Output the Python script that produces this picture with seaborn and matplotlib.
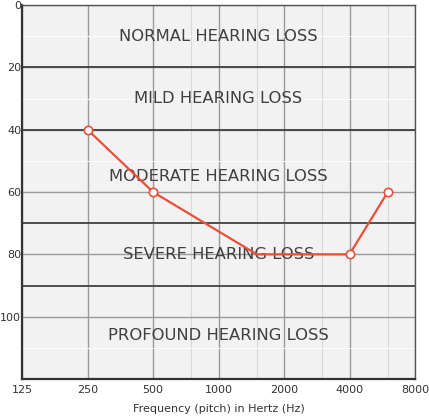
import numpy as np
import pandas as pd
import matplotlib
matplotlib.use("Agg")
import matplotlib.pyplot as plt
import matplotlib.ticker as mticker
import seaborn as sns

# Audiogram values
freq_hz = [250, 500, 1500, 4000, 6000]
loss_db = [40, 60, 80, 80, 60]
marker_freq = [250, 500, 4000, 6000]
marker_db = [40, 60, 80, 60]

x_ticks = [125, 250, 500, 1000, 2000, 4000, 8000]
x_minor = [750, 1500, 3000, 6000]
y_ticks = [0, 20, 40, 60, 80, 100]
y_minor = [10, 30, 50, 70, 90, 110]

band_edges = [20, 40, 70, 90]
band_labels = ["NORMAL HEARING LOSS", "MILD HEARING LOSS", "MODERATE HEARING LOSS",
               "SEVERE HEARING LOSS", "PROFOUND HEARING LOSS"]
band_label_y = [10, 30, 55, 80, 106]

sns.set_style("white")
plt.rcParams['font.family'] = ['DejaVu Sans']

fig = plt.figure(figsize=(4.29, 4.18), dpi=100)
ax = fig.add_axes([22 / 429, 1 - 379 / 418, (415 - 22) / 429, (379 - 5) / 418])
ax.set_facecolor("#f2f2f2")

ax.set_xscale("log", base=2)
ax.set_xlim(125, 8000)
ax.set_ylim(120, 0)

ax.xaxis.set_major_locator(mticker.FixedLocator(x_ticks))
ax.xaxis.set_major_formatter(mticker.FixedFormatter([str(t) for t in x_ticks]))
ax.xaxis.set_minor_locator(mticker.FixedLocator(x_minor))
ax.xaxis.set_minor_formatter(mticker.NullFormatter())
ax.yaxis.set_major_locator(mticker.FixedLocator(y_ticks))
ax.yaxis.set_minor_locator(mticker.FixedLocator(y_minor))

ax.grid(which="major", color="#9a9a9a", linewidth=1.0, zorder=0)
ax.grid(which="minor", axis="x", color="#d8d8d8", linewidth=0.8, zorder=0)
ax.grid(which="minor", axis="y", color="#fbfbfb", linewidth=0.8, zorder=0)
ax.set_axisbelow(True)

for edge in band_edges:
    ax.axhline(edge, color="#404040", linewidth=1.3, zorder=1)

for label, y in zip(band_labels, band_label_y):
    ax.text(0.5, y, label, transform=ax.get_yaxis_transform(), ha="center", va="center",
            fontsize=11.8, color="#404040", zorder=2)

df = pd.DataFrame({"freq": freq_hz, "db": loss_db})
sns.lineplot(data=df, x="freq", y="db", ax=ax, color="#e8503a", linewidth=1.6,
             zorder=4, sort=False)
mk = pd.DataFrame({"freq": marker_freq, "db": marker_db})
sns.scatterplot(data=mk, x="freq", y="db", ax=ax, s=36, facecolor="white",
                edgecolor="#e8503a", linewidth=1.2, zorder=5, clip_on=False)

ax.tick_params(axis="both", which="both", length=0, labelsize=8, labelcolor="#333333")
ax.tick_params(axis="y", pad=0.5)
ax.tick_params(axis="x", pad=4)
ax.set_ylabel("")
ax.set_xlabel("Frequency (pitch) in Hertz (Hz)", fontsize=8, color="#333333", labelpad=7)

for side in ["left", "bottom"]:
    ax.spines[side].set_color("#333333")
    ax.spines[side].set_linewidth(1.6)
for side in ["top", "right"]:
    ax.spines[side].set_color("#555555")
    ax.spines[side].set_linewidth(1.0)

fig.savefig("out.png", dpi=100)
